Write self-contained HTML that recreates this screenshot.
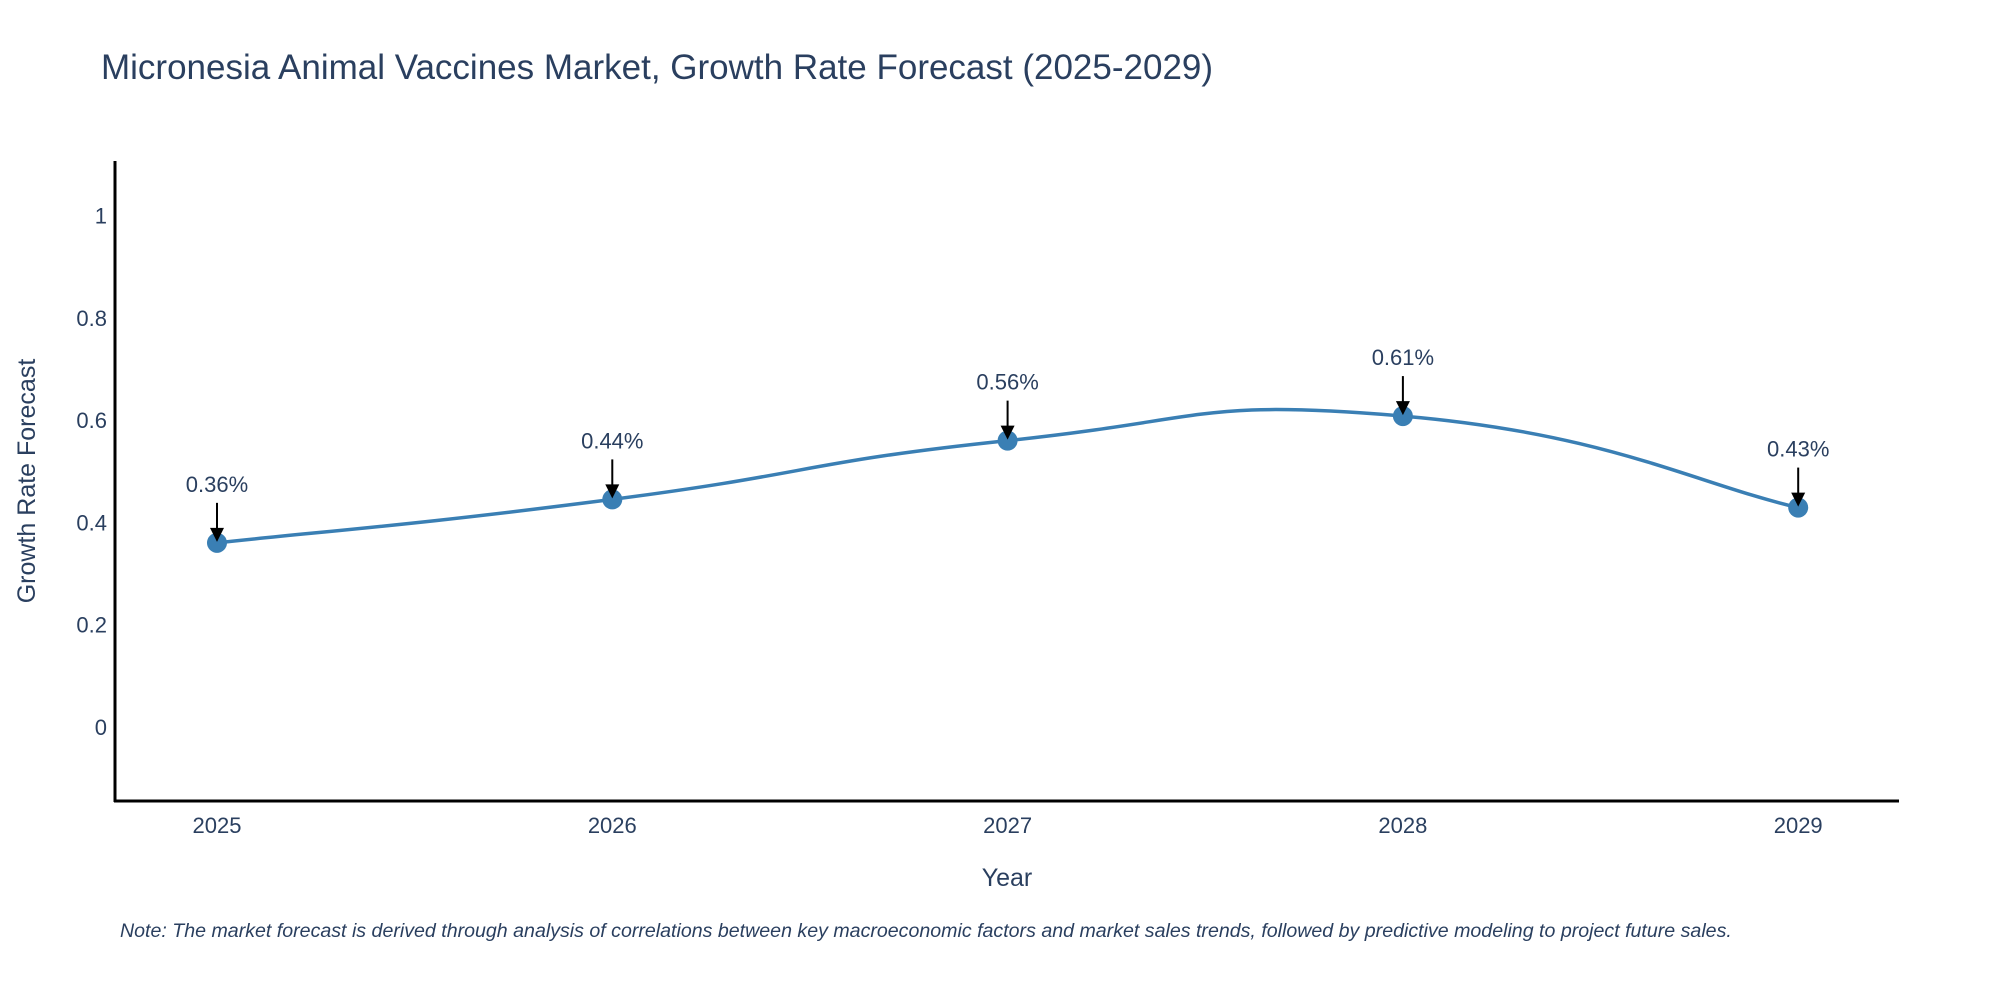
<!DOCTYPE html>
<html><head><meta charset="utf-8"><style>
body{margin:0;background:#fff;}
svg text{font-family:"Liberation Sans",sans-serif;}
</style></head><body>
<svg id="chart" width="2000" height="1000" xmlns="http://www.w3.org/2000/svg">
<text x="101" y="79" font-size="35" fill="#2a3f5f">Micronesia Animal Vaccines Market, Growth Rate Forecast (2025-2029)</text>
<g id="yticks"></g>
<g id="xticks"></g>
<line x1="115" y1="161" x2="115" y2="802" stroke="#000" stroke-width="3"/>
<line x1="114" y1="801" x2="1899" y2="801" stroke="#000" stroke-width="3"/>
<text transform="translate(35,481) rotate(-90)" text-anchor="middle" font-size="25" fill="#2a3f5f">Growth Rate Forecast</text>
<text x="1007" y="886" text-anchor="middle" font-size="25" fill="#2a3f5f">Year</text>
<g id="series"></g>
<g id="annots"></g>
<text x="120" y="937" font-size="19.6" font-style="italic" fill="#2a3f5f">Note: The market forecast is derived through analysis of correlations between key macroeconomic factors and market sales trends, followed by predictive modeling to project future sales.</text>
</svg>
<script>
const years = [2025, 2026, 2027, 2028, 2029];
const growth = [0.36, 0.445, 0.56, 0.608, 0.429];
const valueLabels = ["0.36%", "0.44%", "0.56%", "0.61%", "0.43%"];
const yTickValues = [0, 0.2, 0.4, 0.6, 0.8, 1];
const yTickLabels = ["0", "0.2", "0.4", "0.6", "0.8", "1"];

const NS = "http://www.w3.org/2000/svg";
const xMin = 2024.742, xMax = 2029.255, pxL = 115, pxR = 1899;
const yMin = -0.145, yMax = 1.107, pyB = 801, pyT = 161;
const X = v => pxL + (v - xMin) / (xMax - xMin) * (pxR - pxL);
const Y = v => pyB - (v - yMin) / (yMax - yMin) * (pyB - pyT);
function mk(tag, attrs, parent) { const e = document.createElementNS(NS, tag); for (const k in attrs) e.setAttribute(k, attrs[k]); parent.appendChild(e); return e; }

const yt = document.getElementById('yticks');
yTickValues.forEach((v, i) => {
  const t = mk('text', {x: 107, y: Y(v) + 8, 'text-anchor': 'end', 'font-size': 22, fill: '#2a3f5f'}, yt);
  
  
  t.textContent = yTickLabels[i];
});
const xt = document.getElementById('xticks');
years.forEach(v => {
  const t = mk('text', {x: X(v), y: 833, 'text-anchor': 'middle', 'font-size': 22, fill: '#2a3f5f'}, xt);
  
  
  t.textContent = String(v);
});

const pts = years.map((y, i) => [X(y), Y(growth[i])]);
let d = `M${pts[0][0]},${pts[0][1]}`;
const tns = 0.26;
for (let i = 0; i < pts.length - 1; i++) {
  const p0 = pts[Math.max(0, i - 1)], p1 = pts[i], p2 = pts[i + 1], p3 = pts[Math.min(pts.length - 1, i + 2)];
  const c1 = [p1[0] + (p2[0] - p0[0]) * tns, p1[1] + (p2[1] - p0[1]) * tns];
  const c2 = [p2[0] - (p3[0] - p1[0]) * tns, p2[1] - (p3[1] - p1[1]) * tns];
  d += ` C${c1[0]},${c1[1]} ${c2[0]},${c2[1]} ${p2[0]},${p2[1]}`;
}
const s = document.getElementById('series');
const line = mk('path', {d: d, fill: 'none', stroke: '#3a7fb4', 'stroke-width': 3.5}, s);


pts.forEach(p => {
  const c = mk('circle', {cx: p[0], cy: p[1], r: 10, fill: '#3a7fb4'}, s);
  
  
});
const a = document.getElementById('annots');
pts.forEach((p, i) => {
  const l = mk('line', {x1: p[0], y1: p[1] - 40, x2: p[0], y2: p[1] - 12, stroke: '#000', 'stroke-width': 2}, a);
  
  
  const h = mk('polygon', {points: `${p[0]-7},${p[1]-15} ${p[0]+7},${p[1]-15} ${p[0]},${p[1]-1}`, fill: '#000'}, a);
  
  
  const t = mk('text', {x: p[0], y: p[1] - 51, 'text-anchor': 'middle', 'font-size': 22, fill: '#2a3f5f'}, a);
  
  
  t.textContent = valueLabels[i];
});
</script>
</body></html>
